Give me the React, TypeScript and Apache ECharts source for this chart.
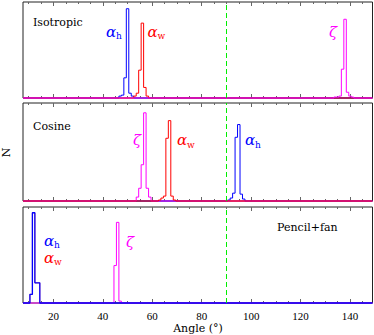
import React, { useEffect, useRef } from "react";
import * as echarts from "echarts";

const X_MIN = 7.7;
const X_MAX = 149.1;
const BIN_WIDTH = 1;
const majorTicks = [20, 40, 60, 80, 100, 120, 140];
const minorTicks = [10, 15, 25, 30, 35, 45, 50, 55, 65, 70, 75, 85, 90, 95, 105, 110, 115, 125, 130, 135, 145];
const panelNames = ["Isotropic", "Cosine", "Pencil+fan"];
const refAngle = 90;

// Bin left edges (degrees) and normalised counts per histogram
// Panel 1: Isotropic
const isoAlphaHEdges = [46.5, 47.5, 48.5, 49.5, 50.5, 51.5];
const isoAlphaHCounts = [2, 3, 21, 93, 5, 2];
const isoAlphaWEdges = [52.5, 53.5, 54.5, 55.5, 56.5, 57.5];
const isoAlphaWCounts = [2, 5, 29, 78, 11, 2];
const isoZetaEdges = [133.5, 134.5, 135.5, 136.5, 137.5, 138.5, 139.5, 140.5];
const isoZetaCounts = [1, 1, 2, 30, 82, 6, 2, 1];

// Panel 2: Cosine
const cosZetaEdges = [53.5, 54.5, 55.5, 56.5, 57.5, 58.5];
const cosZetaCounts = [4, 13, 37, 90, 13, 4];
const cosAlphaWEdges = [62.5, 63.5, 64.5, 65.5, 66.5, 67.5, 68.5];
const cosAlphaWCounts = [1, 3, 5, 64, 82, 5, 1];
const cosAlphaHEdges = [90.5, 91.5, 92.5, 93.5, 94.5, 95.5, 96.5];
const cosAlphaHCounts = [1, 3, 8, 65, 78, 7, 2];

// Panel 3: Pencil+fan
const penAlphaWEdges = [10.5, 11.5, 12.5, 13.5];
const penAlphaWCounts = [9, 94, 21, 21];
const penAlphaHEdges = [10.5, 11.5, 12.5, 13.5];
const penAlphaHCounts = [9, 94, 21, 21];
const penZetaEdges = [44.5, 45.5, 46.5];
const penZetaCounts = [39, 84, 2];

const BLUE = "#0000ff";
const RED = "#ff0000";
const MAGENTA = "#ff00ff";
const GREEN = "#00ee00";

function histData(edges: number[], counts: number[]) {
  const pts: number[][] = [[X_MIN, 0]];
  edges.forEach((e, i) => pts.push([e, counts[i]]));
  pts.push([edges[edges.length - 1] + BIN_WIDTH, 0]);
  pts.push([X_MAX, 0]);
  return pts;
}

const gridTops = [2, 103, 207];
const gridHeights = [96, 98, 96];

function alphaLabel(x: number, y: number, sub: string, subDy: number, color: string) {
  return [
    {
      type: "text",
      x,
      y,
      style: {
        text: "α",
        fill: color,
        font: "italic 15px 'DejaVu Serif'",
        verticalAlign: "middle",
        align: "left",
      },
    },
    {
      type: "text",
      x: x + 10,
      y: y + subDy,
      style: {
        text: sub,
        fill: color,
        font: "9px 'DejaVu Serif'",
        verticalAlign: "middle",
        align: "left",
      },
    },
  ];
}

function zetaLabel(x: number, y: number) {
  return {
    type: "text",
    x,
    y,
    style: {
      text: "ζ",
      fill: MAGENTA,
      font: "italic 15px 'DejaVu Serif'",
      verticalAlign: "middle",
      align: "left",
    },
  };
}

function plainText(x: number, y: number, text: string) {
  return {
    type: "text",
    x,
    y,
    style: {
      text,
      fill: "#000",
      font: "11px 'DejaVu Serif'",
      verticalAlign: "middle",
      align: "left",
    },
  };
}

export default function App() {
  const ref = useRef<HTMLDivElement>(null);
  useEffect(() => {
    if (!ref.current) return;
    const chart = echarts.init(ref.current, undefined, { renderer: "svg" });

    const grids = gridTops.map((t, i) => ({
      left: 23,
      width: 349.5,
      top: t,
      height: gridHeights[i],
      show: true,
      borderColor: "#222",
      borderWidth: 1,
      backgroundColor: "transparent",
    }));

    const xAxes: any[] = [];
    gridTops.forEach((_, g) => {
      const base = {
        type: "value",
        gridIndex: g,
        min: X_MIN,
        max: X_MAX,
        axisLine: { show: false },
        splitLine: { show: false },
      };
      const isBottomPanel = g === gridTops.length - 1;
      xAxes.push({
        ...base,
        position: "bottom",
        axisTick: { show: true, inside: true, length: 4, customValues: majorTicks, lineStyle: { color: "#666", width: 1 } },
        axisLabel: isBottomPanel
          ? { show: true, customValues: majorTicks, fontFamily: "'Liberation Serif'", fontSize: 11, color: "#000", margin: 7 }
          : { show: false },
      });
      xAxes.push({
        ...base,
        position: "bottom",
        axisTick: { show: true, inside: true, length: 2, customValues: minorTicks, lineStyle: { color: "#666", width: 1 } },
        axisLabel: { show: false },
      });
      xAxes.push({
        ...base,
        position: "top",
        axisTick: { show: true, inside: true, length: 4, customValues: majorTicks, lineStyle: { color: "#666", width: 1 } },
        axisLabel: { show: false },
      });
      xAxes.push({
        ...base,
        position: "top",
        axisTick: { show: true, inside: true, length: 2, customValues: minorTicks, lineStyle: { color: "#666", width: 1 } },
        axisLabel: { show: false },
      });
    });

    const yAxes = gridTops.map((_, g) => ({
      type: "value",
      gridIndex: g,
      min: 0,
      max: 100,
      show: false,
    }));

    const markLine = {
      silent: true,
      symbol: ["none", "none"],
      label: { show: false },
      lineStyle: { color: GREEN, type: [5, 3], width: 1 },
      data: [{ xAxis: refAngle }],
    };

    const mk = (g: number, edges: number[], counts: number[], color: string, width = 1, withMark = false) => ({
      type: "line",
      step: "end",
      xAxisIndex: g * 4,
      yAxisIndex: g,
      data: histData(edges, counts),
      symbol: "none",
      showSymbol: false,
      clip: false,
      silent: true,
      lineStyle: { color, width },
      itemStyle: { color },
      ...(withMark ? { markLine } : {}),
    });

    const series = [
      mk(0, isoAlphaHEdges, isoAlphaHCounts, BLUE, 1, true),
      mk(0, isoAlphaWEdges, isoAlphaWCounts, RED),
      mk(0, isoZetaEdges, isoZetaCounts, MAGENTA),
      mk(1, cosAlphaHEdges, cosAlphaHCounts, BLUE, 1, true),
      mk(1, cosZetaEdges, cosZetaCounts, MAGENTA),
      mk(1, cosAlphaWEdges, cosAlphaWCounts, RED),
      mk(2, penAlphaWEdges, penAlphaWCounts, RED, 0.6, true),
      mk(2, penZetaEdges, penZetaCounts, MAGENTA),
      mk(2, penAlphaHEdges, penAlphaHCounts, BLUE, 1.3),
    ];

    const graphic: any[] = [
      plainText(33, 22.5, panelNames[0]),
      ...alphaLabel(106, 32, "h", 4, BLUE),
      ...alphaLabel(147.5, 32, "w", 4, RED),
      zetaLabel(329, 32),
      plainText(33, 126.5, panelNames[1]),
      zetaLabel(133, 140),
      ...alphaLabel(177, 139.5, "w", 5, RED),
      ...alphaLabel(245, 140, "h", 5, BLUE),
      ...alphaLabel(44, 241, "h", 4, BLUE),
      ...alphaLabel(44, 257.5, "w", 4, RED),
      zetaLabel(126, 241.5),
      plainText(277, 227, panelNames[2]),
      {
        type: "text",
        x: 198,
        y: 328,
        style: { text: "Angle (°)", fill: "#000", font: "11px 'DejaVu Serif'", align: "center", verticalAlign: "middle" },
      },
      {
        type: "text",
        x: 6,
        y: 152.5,
        rotation: Math.PI / 2,
        style: { text: "N", fill: "#000", font: "11px 'DejaVu Serif'", align: "center", verticalAlign: "middle" },
      },
    ];

    chart.setOption({
      animation: false,
      backgroundColor: "#fff",
      grid: grids,
      xAxis: xAxes,
      yAxis: yAxes,
      series,
      graphic,
    });
    return () => chart.dispose();
  }, []);

  return (
    <div
      ref={ref}
      style={{ position: "absolute", left: 0, top: 0, width: 374, height: 335 }}
    />
  );
}
